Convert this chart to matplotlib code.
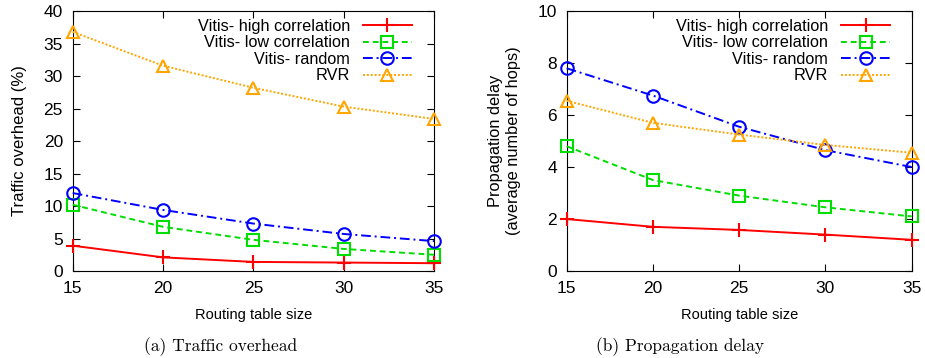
import matplotlib
matplotlib.use("Agg")
import matplotlib.pyplot as plt

plt.rcParams.update({"font.family": "Liberation Sans", "font.size": 11,
                     "axes.unicode_minus": False})

sizes = [15, 20, 25, 30, 35]
labels = ["Vitis- high correlation", "Vitis- low correlation", "Vitis- random", "RVR"]

# (a) traffic overhead (%)
ovh_high = [3.9, 2.1, 1.4, 1.3, 1.2]
ovh_low = [10.2, 6.8, 4.8, 3.4, 2.5]
ovh_rand = [12.0, 9.4, 7.3, 5.7, 4.6]
ovh_rvr = [36.8, 31.6, 28.2, 25.3, 23.4]

# (b) propagation delay (hops)
del_high = [2.0, 1.7, 1.58, 1.4, 1.2]
del_low = [4.8, 3.5, 2.9, 2.45, 2.1]
del_rand = [7.8, 6.75, 5.55, 4.65, 4.0]
del_rvr = [6.55, 5.7, 5.25, 4.85, 4.55]

styles = [dict(color="#ff0000", ls="-", marker="+", ms=10, mew=1.5),
          dict(color="#00dd00", ls=(0, (3, 2)), marker="s", ms=9, mew=1.5, mfc="none"),
          dict(color="#0000ff", ls=(0, (5, 2, 1, 2)), marker="o", ms=9, mew=1.5, mfc="none"),
          dict(color="#ffa500", ls=(0, (1, 1)), marker="^", ms=9, mew=1.5, mfc="none")]

fig = plt.figure(figsize=(9.25, 3.58), dpi=100)
axA = fig.add_axes([0.0786, 0.243, 0.3906, 0.726])
axB = fig.add_axes([0.6126, 0.243, 0.373, 0.726])

def panel(ax, series, ymax, ystep, ylabel, ylsize, ylpad):
    for ys, lab, st in zip(series, labels, styles):
        ax.plot(sizes, ys, lw=1.4, label=lab, clip_on=False, zorder=3, **st)
    ax.set_xlim(15, 35); ax.set_ylim(0, ymax)
    ax.set_xticks(sizes); ax.set_yticks(range(0, ymax + 1, ystep))
    ax.tick_params(direction="in", top=True, right=True, length=5, labelsize=12.5, pad=7)
    ax.set_xlabel("Routing table size", fontsize=10.5, labelpad=9)
    ax.set_ylabel(ylabel, fontsize=ylsize, labelpad=ylpad)
    leg = ax.legend(loc="upper right", frameon=False, markerfirst=False,
                    fontsize=11.7, handlelength=3.0, labelspacing=0.1,
                    borderaxespad=0.5, borderpad=0.2, handletextpad=0.8,
                    bbox_to_anchor=(0.97, 1.015))
    for col in leg._legend_box._children[-1]._children:
        col.align = "right"

panel(axA, [ovh_high, ovh_low, ovh_rand, ovh_rvr], 40, 5, "Traffic overhead (%)", 12, 12)
panel(axB, [del_high, del_low, del_rand, del_rvr], 10, 2,
      "Propagation delay\n(average number of hops)", 11.8, 12)

fig.text(0.238, 0.018, "(a) Traffic overhead", ha="center", fontsize=12.5,
         family=["cmr10", "DejaVu Serif"])
fig.text(0.735, 0.018, "(b) Propagation delay", ha="center", fontsize=12.5,
         family=["cmr10", "DejaVu Serif"])

fig.savefig("out.png", dpi=100)
